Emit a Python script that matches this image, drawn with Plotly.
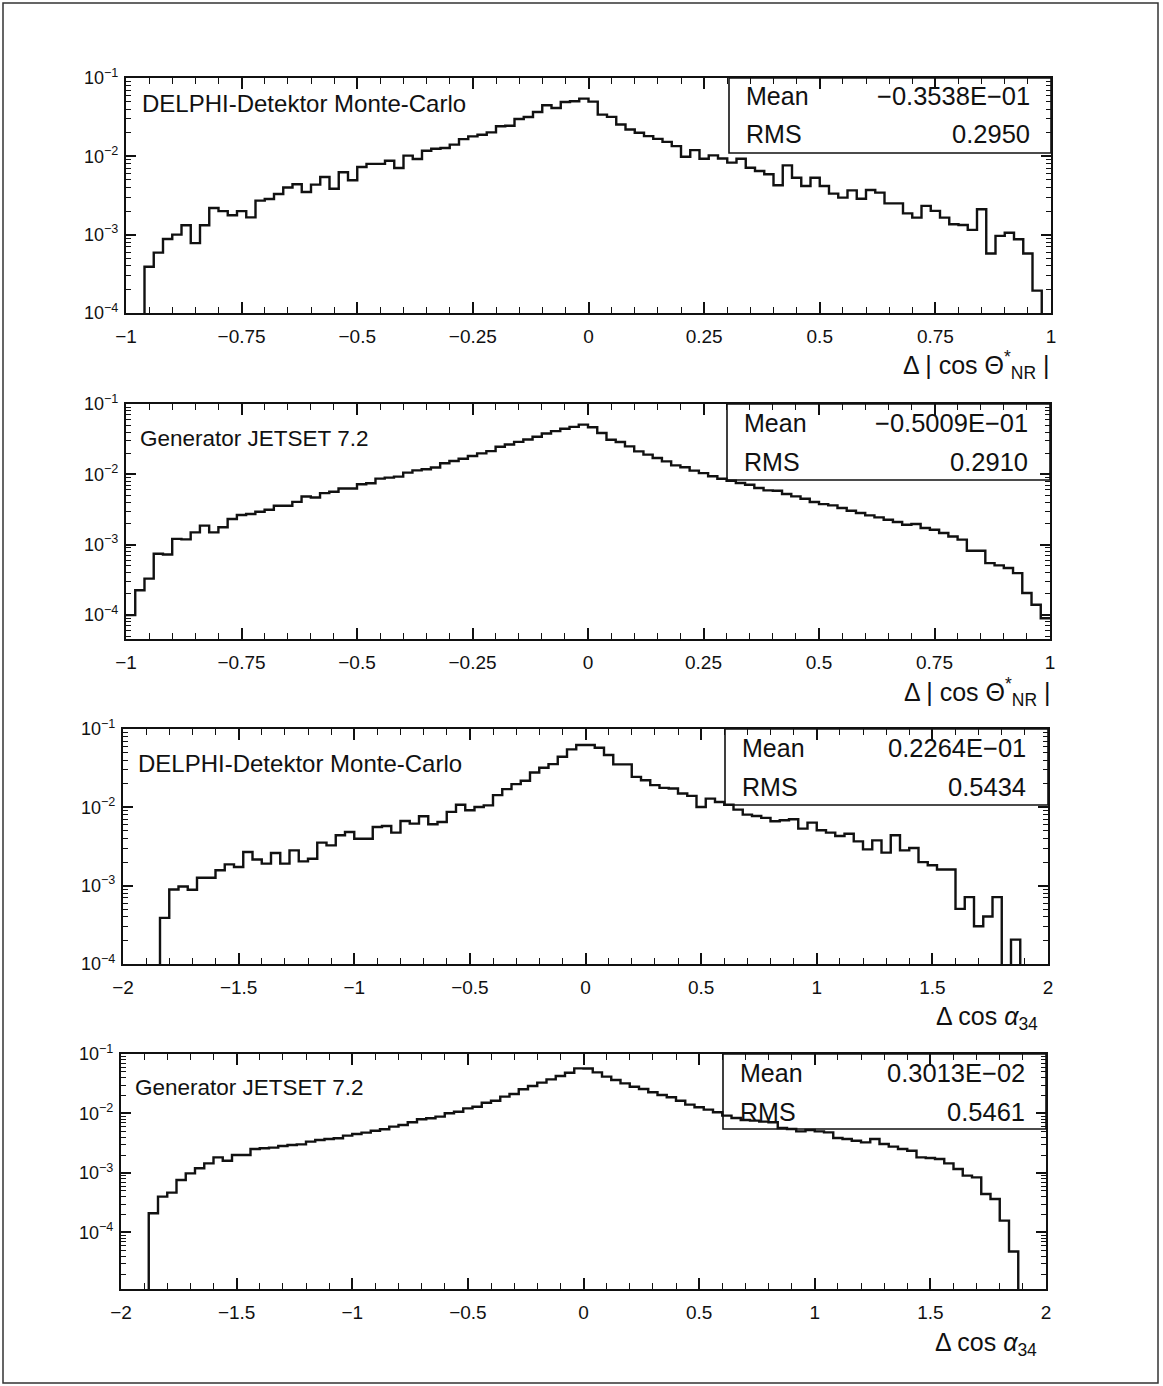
import numpy as np
import plotly.graph_objects as go

W, H = 1163, 1386

# ---------------- data ----------------
n_bins = 100
theta_range = [-1.0, 1.0]
alpha_range = [-2.0, 2.0]

delphi_theta = [
    0, 0, 3.9e-4, 5.9e-4, 8.8e-4, 1.0e-3, 1.32e-3, 7.8e-4, 1.32e-3, 2.19e-3,
    2.0e-3, 1.77e-3, 2.0e-3, 1.66e-3, 2.72e-3, 2.85e-3, 3.31e-3, 4.0e-3, 4.4e-3, 3.5e-3,
    4.35e-3, 5.45e-3, 3.86e-3, 6.25e-3, 4.94e-3, 7.3e-3, 8.0e-3, 8.0e-3, 8.8e-3, 7.1e-3,
    1.02e-2, 9.25e-3, 1.18e-2, 1.25e-2, 1.28e-2, 1.41e-2, 1.66e-2, 1.80e-2, 1.89e-2, 2.02e-2,
    2.42e-2, 2.46e-2, 3.0e-2, 3.18e-2, 3.68e-2, 4.48e-2, 4.14e-2, 4.94e-2, 5.04e-2, 5.45e-2,
    5.0e-2, 3.41e-2, 3.19e-2, 2.55e-2, 2.2e-2, 2.0e-2, 1.81e-2, 1.67e-2, 1.53e-2, 1.35e-2,
    9.86e-3, 1.2e-2, 9.3e-3, 1.03e-2, 9.4e-3, 8.3e-3, 9.3e-3, 7.15e-3, 6.5e-3, 5.9e-3,
    4.27e-3, 7.66e-3, 5.33e-3, 4.18e-3, 5.33e-3, 4.18e-3, 3.34e-3, 2.97e-3, 3.68e-3, 2.88e-3,
    3.72e-3, 3.44e-3, 2.51e-3, 2.51e-3, 1.87e-3, 1.65e-3, 2.33e-3, 2.01e-3, 1.65e-3, 1.36e-3,
    1.33e-3, 1.15e-3, 2.11e-3, 5.75e-4, 9.66e-4, 1.06e-3, 8.75e-4, 5.75e-4, 1.93e-4, 0,
]

jetset_theta = [
    1.0e-4, 2.25e-4, 3.3e-4, 7.43e-4, 7.26e-4, 1.21e-3, 1.19e-3, 1.50e-3, 1.87e-3, 1.50e-3,
    1.77e-3, 2.32e-3, 2.64e-3, 2.73e-3, 2.94e-3, 3.14e-3, 3.58e-3, 3.58e-3, 4.07e-3, 4.85e-3,
    4.7e-3, 5.41e-3, 5.65e-3, 6.3e-3, 6.3e-3, 7.24e-3, 7.48e-3, 8.71e-3, 9.0e-3, 9.29e-3,
    1.06e-2, 1.14e-2, 1.18e-2, 1.25e-2, 1.44e-2, 1.55e-2, 1.67e-2, 1.82e-2, 1.99e-2, 2.14e-2,
    2.47e-2, 2.66e-2, 2.9e-2, 3.13e-2, 3.42e-2, 3.81e-2, 4.11e-2, 4.44e-2, 4.73e-2, 5.1e-2,
    4.68e-2, 3.87e-2, 3.11e-2, 2.88e-2, 2.5e-2, 2.12e-2, 1.91e-2, 1.71e-2, 1.53e-2, 1.34e-2,
    1.26e-2, 1.13e-2, 1.04e-2, 9.38e-3, 8.67e-3, 8.13e-3, 7.53e-3, 7.13e-3, 6.4e-3, 5.93e-3,
    5.86e-3, 5.25e-3, 4.86e-3, 4.51e-3, 4.05e-3, 3.78e-3, 3.62e-3, 3.32e-3, 3.04e-3, 2.82e-3,
    2.61e-3, 2.45e-3, 2.26e-3, 2.1e-3, 1.92e-3, 1.97e-3, 1.73e-3, 1.63e-3, 1.47e-3, 1.31e-3,
    1.18e-3, 8.22e-4, 8.22e-4, 5.48e-4, 5.08e-4, 4.66e-4, 3.95e-4, 2.06e-4, 1.4e-4, 9.0e-5,
]

delphi_alpha = [
    0, 0, 0, 0, 3.88e-4, 8.93e-4, 9.77e-4, 8.85e-4, 1.26e-3, 1.26e-3,
    1.57e-3, 1.87e-3, 1.73e-3, 2.69e-3, 2.16e-3, 1.91e-3, 2.61e-3, 1.91e-3, 2.82e-3, 2.04e-3,
    2.21e-3, 3.54e-3, 3.27e-3, 4.4e-3, 4.84e-3, 3.98e-3, 3.98e-3, 5.61e-3, 5.78e-3, 4.75e-3,
    6.7e-3, 6.19e-3, 7.69e-3, 6.08e-3, 6.5e-3, 8.75e-3, 1.08e-2, 9.18e-3, 1.01e-2, 1.06e-2,
    1.43e-2, 1.71e-2, 1.98e-2, 2.18e-2, 2.79e-2, 3.2e-2, 3.56e-2, 4.43e-2, 5.5e-2, 6.24e-2,
    6.24e-2, 5.77e-2, 4.65e-2, 3.53e-2, 3.53e-2, 2.45e-2, 2.22e-2, 1.92e-2, 1.77e-2, 1.74e-2,
    1.5e-2, 1.4e-2, 1.01e-2, 1.29e-2, 1.17e-2, 1.08e-2, 9.35e-3, 8.07e-3, 7.76e-3, 7.33e-3,
    6.64e-3, 6.84e-3, 7.05e-3, 5.35e-3, 6.38e-3, 5.09e-3, 4.75e-3, 4.31e-3, 4.61e-3, 3.68e-3,
    2.91e-3, 3.79e-3, 2.64e-3, 4.4e-3, 2.82e-3, 3.03e-3, 2.0e-3, 1.82e-3, 1.61e-3, 1.61e-3,
    5.06e-4, 7.13e-4, 3.03e-4, 4.04e-4, 7.13e-4, 0, 2.05e-4, 0, 0, 0,
]

jetset_alpha = [
    0, 0, 0, 2.1e-4, 4.0e-4, 4.67e-4, 7.62e-4, 9.86e-4, 1.2e-3, 1.45e-3,
    1.83e-3, 1.61e-3, 2.01e-3, 2.01e-3, 2.53e-3, 2.6e-3, 2.67e-3, 2.84e-3, 2.96e-3, 3.03e-3,
    3.37e-3, 3.59e-3, 3.72e-3, 3.83e-3, 4.24e-3, 4.52e-3, 4.76e-3, 5.14e-3, 5.42e-3, 6.01e-3,
    6.41e-3, 7.11e-3, 7.98e-3, 8.3e-3, 8.85e-3, 1.01e-2, 1.07e-2, 1.22e-2, 1.3e-2, 1.52e-2,
    1.64e-2, 1.92e-2, 2.13e-2, 2.55e-2, 2.9e-2, 3.3e-2, 3.75e-2, 4.27e-2, 4.85e-2, 5.74e-2,
    5.69e-2, 4.92e-2, 4.16e-2, 3.66e-2, 3.21e-2, 2.82e-2, 2.58e-2, 2.27e-2, 2.05e-2, 1.87e-2,
    1.64e-2, 1.41e-2, 1.27e-2, 1.16e-2, 1.05e-2, 9.2e-3, 8.4e-3, 7.78e-3, 7.59e-3, 7.3e-3,
    7.11e-3, 5.7e-3, 5.48e-3, 5.01e-3, 5.28e-3, 5.01e-3, 4.82e-3, 3.87e-3, 3.72e-3, 3.49e-3,
    3.27e-3, 3.72e-3, 3.07e-3, 2.77e-3, 2.53e-3, 2.37e-3, 1.83e-3, 1.79e-3, 1.72e-3, 1.45e-3,
    1.17e-3, 9.02e-4, 8.45e-4, 4.44e-4, 3.66e-4, 1.58e-4, 4.8e-5, 0, 0, 0,
]

panel_labels = ["DELPHI-Detektor Monte-Carlo", "Generator JETSET 7.2",
                "DELPHI-Detektor Monte-Carlo", "Generator JETSET 7.2"]
stat_means = ["\u22120.3538E\u221201", "\u22120.5009E\u221201", "0.2264E\u221201", "0.3013E\u221202"]
stat_rms = ["0.2950", "0.2910", "0.5434", "0.5461"]
axis_titles = ["\u0394 | cos \u0398<sup>*</sup><sub>NR</sub> |",
               "\u0394 | cos \u0398<sup>*</sup><sub>NR</sub> |",
               "\u0394 cos <i>\u03b1</i><sub>34</sub>",
               "\u0394 cos <i>\u03b1</i><sub>34</sub>"]

theta_ticks = [-1, -0.75, -0.5, -0.25, 0, 0.25, 0.5, 0.75, 1]
theta_ticktext = ["\u22121", "\u22120.75", "\u22120.5", "\u22120.25", "0", "0.25", "0.5", "0.75", "1"]
alpha_ticks = [-2, -1.5, -1, -0.5, 0, 0.5, 1, 1.5, 2]
alpha_ticktext = ["\u22122", "\u22121.5", "\u22121", "\u22120.5", "0", "0.5", "1", "1.5", "2"]
y_ticks = [1e-4, 1e-3, 1e-2, 1e-1]
y_ticktext = ["10<sup>\u22124</sup>", "10<sup>\u22123</sup>", "10<sup>\u22122</sup>", "10<sup>\u22121</sup>"]

# ---------------- layout geometry (pixels) ----------------
panels = [
    dict(vals=delphi_theta, xr=theta_range, xt=theta_ticks, xtt=theta_ticktext, minor=0.05,
         x0=126, x1=1051, y0=78, y1=313, ylog=[-4, -1],
         lab=(140, 103), labsize=24, box_x=729, box_y=153, mean_y=96, rms_y=134, val_x=1032,
         title=(1052, 365)),
    dict(vals=jetset_theta, xr=theta_range, xt=theta_ticks, xtt=theta_ticktext, minor=0.05,
         x0=126, x1=1050, y0=404, y1=639, ylog=[-4.34, -1],
         lab=(138, 438), labsize=22.5, box_x=727, box_y=480, mean_y=423, rms_y=462, val_x=1030,
         title=(1053, 692)),
    dict(vals=delphi_alpha, xr=alpha_range, xt=alpha_ticks, xtt=alpha_ticktext, minor=0.1,
         x0=123, x1=1048, y0=729, y1=964, ylog=[-4, -1],
         lab=(136, 764), labsize=24, box_x=725, box_y=805, mean_y=748, rms_y=787, val_x=1028,
         title=(1040, 1018)),
    dict(vals=jetset_alpha, xr=alpha_range, xt=alpha_ticks, xtt=alpha_ticktext, minor=0.1,
         x0=121, x1=1046, y0=1054, y1=1289, ylog=[-4.95, -1],
         lab=(133, 1087), labsize=22.5, box_x=723, box_y=1129, mean_y=1073, rms_y=1112, val_x=1027,
         title=(1039, 1344)),
]

FONT = "Liberation Sans, Arial, sans-serif"
INK = "#111111"


def fx(p):
    return p / W


def fy(p):
    return 1 - p / H


fig = go.Figure()
shapes = []
annotations = []
minor_y = [m * 10.0 ** e for e in range(-6, -1) for m in range(2, 10)]

for i, p in enumerate(panels):
    sfx = "" if i == 0 else str(i + 1)
    edges = np.linspace(p["xr"][0], p["xr"][1], n_bins + 1)
    vals = np.array(p["vals"], dtype=float)
    vals_plot = np.where(vals > 0, vals, 1e-9)  # empty bins drop below the axis
    yy = np.append(vals_plot, vals_plot[-1])
    fig.add_trace(go.Scatter(
        x=edges, y=yy, mode="lines", line=dict(shape="hv", color=INK, width=2.4),
        xaxis="x" + sfx, yaxis="y" + sfx, showlegend=False, hoverinfo="skip"))

    xa = dict(
        domain=[fx(p["x0"]), fx(p["x1"])], anchor="y" + sfx, range=p["xr"],
        tickmode="array", tickvals=p["xt"], ticktext=p["xtt"],
        ticks="inside", ticklen=11, tickwidth=1.6, tickcolor=INK,
        minor=dict(tickmode="linear", tick0=p["xr"][0], dtick=p["minor"], ticks="inside",
                   ticklen=6, tickwidth=1.3, tickcolor=INK, showgrid=False),
        showline=True, linewidth=2.2, linecolor=INK, mirror="allticks",
        showgrid=False, zeroline=False, automargin=False,
        tickfont=dict(family=FONT, size=19, color=INK), ticklabelstandoff=5,
    )
    ya = dict(
        domain=[fy(p["y1"]), fy(p["y0"])], anchor="x" + sfx, type="log", range=p["ylog"],
        tickmode="array", tickvals=y_ticks, ticktext=y_ticktext,
        ticks="inside", ticklen=10, tickwidth=1.6, tickcolor=INK,
        minor=dict(tickmode="array", tickvals=minor_y, ticks="inside", ticklen=5,
                   tickwidth=1.2, tickcolor=INK, showgrid=False),
        showline=True, linewidth=2.2, linecolor=INK, mirror="allticks",
        showgrid=False, zeroline=False, automargin=False,
        tickfont=dict(family=FONT, size=18, color=INK), ticklabelstandoff=2,
    )
    fig.layout["xaxis" + sfx] = xa
    fig.layout["yaxis" + sfx] = ya

    # statistics box
    shapes.append(dict(type="rect", xref="paper", yref="paper",
                       x0=fx(p["box_x"]), x1=fx(p["x1"]), y0=fy(p["box_y"]), y1=fy(p["y0"]),
                       line=dict(color=INK, width=1.6), fillcolor="rgba(0,0,0,0)"))
    for txt, yv in (("Mean", p["mean_y"]), ("RMS", p["rms_y"])):
        annotations.append(dict(text=txt, x=fx(p["box_x"] + 15), y=fy(yv), xref="paper", yref="paper",
                                xanchor="left", yanchor="middle", showarrow=False,
                                font=dict(family=FONT, size=25, color=INK)))
    for txt, yv in ((stat_means[i], p["mean_y"]), (stat_rms[i], p["rms_y"])):
        annotations.append(dict(text=txt, x=fx(p["val_x"]), y=fy(yv), xref="paper", yref="paper",
                                xanchor="right", yanchor="middle", showarrow=False,
                                font=dict(family=FONT, size=25.5, color=INK)))
    # panel label
    annotations.append(dict(text=panel_labels[i], x=fx(p["lab"][0]), y=fy(p["lab"][1]),
                            xref="paper", yref="paper", xanchor="left", yanchor="middle",
                            showarrow=False, font=dict(family=FONT, size=p["labsize"], color=INK)))
    # axis title
    annotations.append(dict(text=axis_titles[i], x=fx(p["title"][0]), y=fy(p["title"][1]),
                            xref="paper", yref="paper", xanchor="right", yanchor="middle",
                            showarrow=False, font=dict(family=FONT, size=25, color=INK)))

# page frame
shapes.append(dict(type="rect", xref="paper", yref="paper",
                   x0=fx(3), x1=fx(1158), y0=fy(1383), y1=fy(3),
                   line=dict(color="#333333", width=1.5), fillcolor="rgba(0,0,0,0)", layer="below"))

fig.update_layout(
    width=W, height=H, margin=dict(l=0, r=0, t=0, b=0, pad=0), autosize=False,
    paper_bgcolor="white", plot_bgcolor="rgba(0,0,0,0)",
    shapes=shapes, annotations=annotations, showlegend=False,
    font=dict(family=FONT, color=INK),
)

fig.write_html(
    "out.html",
    config={"displayModeBar": False},
    post_script="document.body.style.margin='0px';document.body.style.padding='0px';"
                "document.body.style.overflow='hidden';",
)
